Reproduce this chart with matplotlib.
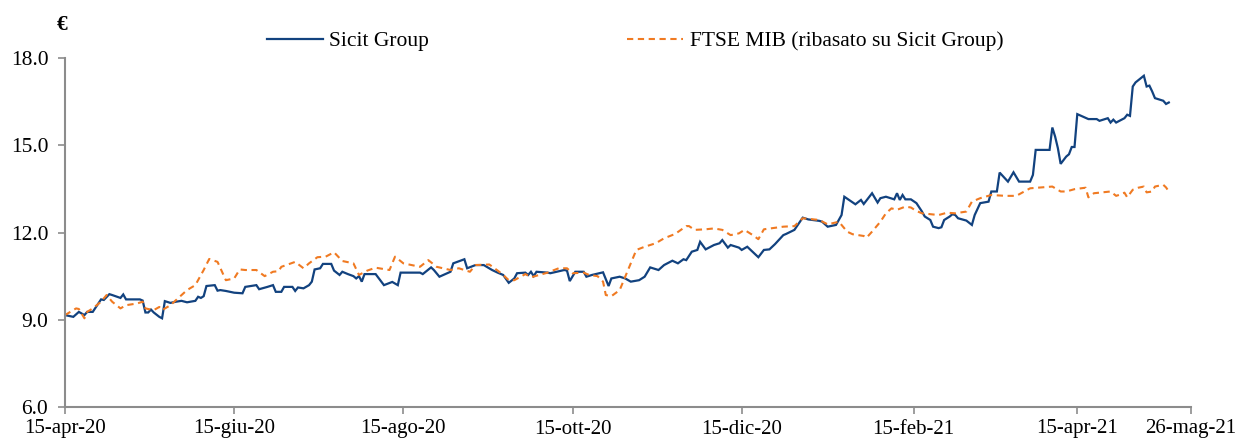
import matplotlib
matplotlib.use("Agg")
import matplotlib.pyplot as plt
import pandas as pd

plt.rcParams['font.family'] = ['Liberation Serif', 'DejaVu Serif']

# ---------------- data ----------------
sicit_dates = [
 "2020-04-15","2020-04-18","2020-04-20","2020-04-22","2020-04-23","2020-04-25","2020-04-28","2020-04-29",
 "2020-05-01","2020-05-02","2020-05-05","2020-05-06","2020-05-07","2020-05-12","2020-05-13","2020-05-14",
 "2020-05-15","2020-05-16","2020-05-17","2020-05-19","2020-05-20","2020-05-21","2020-05-23","2020-05-25",
 "2020-05-27","2020-05-29","2020-06-01","2020-06-02","2020-06-03","2020-06-04","2020-06-05","2020-06-08",
 "2020-06-09","2020-06-10","2020-06-12","2020-06-15","2020-06-18","2020-06-19","2020-06-23","2020-06-24",
 "2020-06-27","2020-06-29","2020-06-30","2020-07-02","2020-07-03","2020-07-06","2020-07-07","2020-07-08",
 "2020-07-10","2020-07-12","2020-07-13","2020-07-14","2020-07-16","2020-07-17","2020-07-20","2020-07-21",
 "2020-07-23","2020-07-24","2020-07-26","2020-07-28","2020-07-29","2020-07-30","2020-07-31","2020-08-01",
 "2020-08-05","2020-08-08","2020-08-11","2020-08-13","2020-08-14","2020-08-21","2020-08-22","2020-08-25",
 "2020-08-26","2020-08-28","2020-09-01","2020-09-02","2020-09-06","2020-09-07","2020-09-10","2020-09-13",
 "2020-09-16","2020-09-18","2020-09-20","2020-09-22","2020-09-24","2020-09-25","2020-09-28","2020-09-29",
 "2020-09-30","2020-10-01","2020-10-02","2020-10-06","2020-10-07","2020-10-12","2020-10-13","2020-10-14",
 "2020-10-16","2020-10-19","2020-10-20","2020-10-22","2020-10-26","2020-10-28","2020-10-29","2020-11-01",
 "2020-11-03","2020-11-05","2020-11-08","2020-11-10","2020-11-12","2020-11-15","2020-11-17","2020-11-20",
 "2020-11-22","2020-11-24","2020-11-25","2020-11-27","2020-11-29","2020-11-30","2020-12-02","2020-12-05",
 "2020-12-07","2020-12-08","2020-12-10","2020-12-11","2020-12-14","2020-12-15","2020-12-17","2020-12-21",
 "2020-12-23","2020-12-25","2020-12-27","2020-12-30","2020-12-31","2021-01-03","2021-01-06","2021-01-08",
 "2021-01-12","2021-01-13","2021-01-15","2021-01-18","2021-01-20","2021-01-21","2021-01-25","2021-01-27",
 "2021-01-28","2021-01-31","2021-02-02","2021-02-03","2021-02-05","2021-02-08","2021-02-09","2021-02-10",
 "2021-02-11","2021-02-12","2021-02-14","2021-02-16","2021-02-18","2021-02-19","2021-02-21","2021-02-22",
 "2021-02-24","2021-02-25","2021-02-26","2021-02-28","2021-03-01","2021-03-02","2021-03-03","2021-03-06",
 "2021-03-08","2021-03-09","2021-03-11","2021-03-14","2021-03-15","2021-03-17","2021-03-18","2021-03-21",
 "2021-03-23","2021-03-25","2021-03-29","2021-03-30","2021-03-31","2021-04-05","2021-04-06","2021-04-07",
 "2021-04-08","2021-04-09","2021-04-11","2021-04-12","2021-04-13","2021-04-14","2021-04-15","2021-04-19",
 "2021-04-22","2021-04-23","2021-04-26","2021-04-27","2021-04-28","2021-04-29","2021-05-02","2021-05-03",
 "2021-05-04","2021-05-05","2021-05-06","2021-05-09","2021-05-10","2021-05-11","2021-05-12","2021-05-13",
 "2021-05-16","2021-05-17","2021-05-18"]
sicit_values = [
 9.16, 9.10, 9.27, 9.16, 9.27, 9.27, 9.70, 9.68,
 9.88, 9.85, 9.75, 9.87, 9.70, 9.70, 9.66, 9.25,
 9.25, 9.35, 9.25, 9.10, 9.05, 9.64, 9.58, 9.62,
 9.65, 9.60, 9.65, 9.79, 9.75, 9.81, 10.16, 10.19,
 10.00, 10.02, 9.99, 9.93, 9.91, 10.13, 10.19, 10.05,
 10.13, 10.19, 9.96, 9.96, 10.13, 10.13, 9.99, 10.11,
 10.08, 10.19, 10.31, 10.73, 10.77, 10.92, 10.92, 10.69,
 10.54, 10.65, 10.57, 10.50, 10.42, 10.50, 10.31, 10.57,
 10.57, 10.19, 10.30, 10.19, 10.62, 10.62, 10.57, 10.80,
 10.71, 10.48, 10.65, 10.94, 11.08, 10.77, 10.88, 10.88,
 10.71, 10.62, 10.54, 10.27, 10.42, 10.60, 10.62, 10.54,
 10.65, 10.50, 10.65, 10.62, 10.60, 10.71, 10.69, 10.33,
 10.65, 10.65, 10.48, 10.54, 10.63, 10.16, 10.42, 10.48,
 10.42, 10.31, 10.36, 10.48, 10.80, 10.71, 10.88, 11.03,
 10.94, 11.08, 11.05, 11.34, 11.40, 11.68, 11.42, 11.57,
 11.63, 11.74, 11.48, 11.57, 11.48, 11.40, 11.51, 11.15,
 11.40, 11.42, 11.60, 11.91, 11.95, 12.09, 12.51, 12.45,
 12.40, 12.37, 12.20, 12.26, 12.60, 13.23, 12.97, 13.12,
 12.98, 13.35, 13.03, 13.18, 13.23, 13.14, 13.35, 13.12,
 13.29, 13.14, 13.14, 13.01, 12.72, 12.55, 12.43, 12.20,
 12.15, 12.18, 12.43, 12.55, 12.63, 12.60, 12.49, 12.41,
 12.26, 12.60, 13.01, 13.06, 13.41, 13.41, 14.06, 13.75,
 14.07, 13.75, 13.75, 13.98, 14.84, 14.84, 15.61, 15.30,
 14.90, 14.36, 14.61, 14.69, 14.94, 14.94, 16.07, 15.90,
 15.90, 15.84, 15.93, 15.78, 15.88, 15.78, 15.93, 16.05,
 16.01, 17.02, 17.16, 17.39, 17.02, 17.05, 16.85, 16.62,
 16.53, 16.42, 16.47]

ftse_dates = [
 "2020-04-15","2020-04-19","2020-04-20","2020-04-22","2020-04-23","2020-04-25","2020-04-28","2020-04-30",
 "2020-05-02","2020-05-05","2020-05-07","2020-05-11","2020-05-13","2020-05-14","2020-05-17","2020-05-19",
 "2020-05-20","2020-05-23","2020-05-27","2020-05-29","2020-06-01","2020-06-04","2020-06-06","2020-06-09",
 "2020-06-12","2020-06-15","2020-06-17","2020-06-19","2020-06-23","2020-06-26","2020-06-29","2020-07-01",
 "2020-07-02","2020-07-05","2020-07-07","2020-07-10","2020-07-12","2020-07-15","2020-07-18","2020-07-21",
 "2020-07-24","2020-07-28","2020-07-30","2020-08-02","2020-08-05","2020-08-10","2020-08-12","2020-08-15",
 "2020-08-21","2020-08-24","2020-08-27","2020-09-01","2020-09-04","2020-09-08","2020-09-10","2020-09-15",
 "2020-09-18","2020-09-20","2020-09-22","2020-09-24","2020-09-28","2020-09-30","2020-10-03","2020-10-06",
 "2020-10-10","2020-10-13","2020-10-15","2020-10-19","2020-10-21","2020-10-24","2020-10-26","2020-10-27",
 "2020-10-29","2020-11-01","2020-11-03","2020-11-05","2020-11-07","2020-11-10","2020-11-14","2020-11-17",
 "2020-11-21","2020-11-25","2020-11-26","2020-11-28","2020-12-02","2020-12-05","2020-12-08","2020-12-11",
 "2020-12-14","2020-12-16","2020-12-19","2020-12-21","2020-12-23","2020-12-30","2021-01-03","2021-01-06",
 "2021-01-12","2021-01-15","2021-01-19","2021-01-20","2021-01-22","2021-01-24","2021-01-26","2021-01-28",
 "2021-01-29","2021-01-31","2021-02-03","2021-02-05","2021-02-07","2021-02-09","2021-02-12","2021-02-14",
 "2021-02-16","2021-02-18","2021-02-21","2021-02-24","2021-02-27","2021-03-02","2021-03-06","2021-03-08",
 "2021-03-11","2021-03-15","2021-03-20","2021-03-24","2021-03-29","2021-04-06","2021-04-09","2021-04-11",
 "2021-04-14","2021-04-18","2021-04-19","2021-04-21","2021-04-27","2021-04-29","2021-05-01","2021-05-02",
 "2021-05-03","2021-05-05","2021-05-07","2021-05-09","2021-05-10","2021-05-12","2021-05-13","2021-05-16",
 "2021-05-17","2021-05-18"]
ftse_values = [
 9.16, 9.39, 9.37, 9.05, 9.27, 9.39, 9.62, 9.85,
 9.62, 9.39, 9.50, 9.56, 9.62, 9.39, 9.33, 9.44,
 9.33, 9.50, 9.85, 10.02, 10.19, 10.71, 11.09, 10.99,
 10.36, 10.42, 10.73, 10.71, 10.71, 10.50, 10.65, 10.67,
 10.82, 10.92, 10.99, 10.77, 10.94, 11.15, 11.17, 11.32,
 11.02, 10.94, 10.54, 10.69, 10.79, 10.71, 11.17, 10.94,
 10.82, 11.05, 10.82, 10.71, 10.77, 10.65, 10.88, 10.90,
 10.69, 10.54, 10.36, 10.36, 10.57, 10.46, 10.54, 10.62,
 10.77, 10.77, 10.60, 10.62, 10.54, 10.50, 10.31, 9.85,
 9.81, 10.02, 10.48, 10.94, 11.40, 11.51, 11.63, 11.80,
 11.95, 12.22, 12.22, 12.09, 12.11, 12.14, 12.09, 11.91,
 11.97, 12.09, 11.91, 11.77, 12.11, 12.20, 12.22, 12.49,
 12.43, 12.28, 12.37, 12.26, 12.03, 11.94, 11.91, 11.88,
 11.82, 12.03, 12.37, 12.66, 12.83, 12.78, 12.89, 12.86,
 12.74, 12.66, 12.63, 12.60, 12.68, 12.66, 12.72, 13.06,
 13.18, 13.29, 13.26, 13.26, 13.52, 13.58, 13.41, 13.41,
 13.49, 13.54, 13.21, 13.35, 13.41, 13.26, 13.32, 13.37,
 13.21, 13.47, 13.54, 13.58, 13.38, 13.41, 13.58, 13.64,
 13.55, 13.41]

series_labels = ["Sicit Group", "FTSE MIB (ribasato su Sicit Group)"]
xtick_dates = ["2020-04-15", "2020-06-15", "2020-08-15", "2020-10-15",
               "2020-12-15", "2021-02-15", "2021-04-15", "2021-05-26"]
xtick_labels = ["15-apr-20", "15-giu-20", "15-ago-20", "15-ott-20",
                "15-dic-20", "15-feb-21", "15-apr-21", "26-mag-21"]
yticks = [6.0, 9.0, 12.0, 15.0, 18.0]
unit_label = "€"

# ---------------- figure ----------------
W, H = 1235, 443
fig = plt.figure(figsize=(W / 100, H / 100), dpi=100)
ax = fig.add_axes([65 / W, 1 - 407 / H, (1191 - 65) / W, (407 - 58) / H])

blue = "#12427f"
orange = "#f07a22"
ax.plot(pd.to_datetime(sicit_dates), sicit_values, color=blue, lw=1.6,
        label=series_labels[0], solid_joinstyle="miter")
ax.plot(pd.to_datetime(ftse_dates), ftse_values, color=orange, lw=1.5,
        dashes=(3, 2.2), label=series_labels[1])

ax.set_xlim(pd.Timestamp(xtick_dates[0]), pd.Timestamp(xtick_dates[-1]))
ax.set_ylim(yticks[0], yticks[-1])
ax.set_yticks(yticks)
ax.set_yticklabels([f"{v:.1f}" for v in yticks])
ax.set_xticks(pd.to_datetime(xtick_dates))
ax.set_xticklabels(xtick_labels)

gray = "#8c8c8c"
for s in ("top", "right"):
    ax.spines[s].set_visible(False)
for s in ("left", "bottom"):
    ax.spines[s].set_color(gray)
    ax.spines[s].set_linewidth(1.5)
ax.tick_params(axis="y", direction="out", length=5, width=1.2, color=gray,
               labelsize=15.5, pad=7, labelcolor="black")
ax.tick_params(axis="x", direction="out", length=5, width=1.2, color=gray,
               labelsize=15, pad=4, labelcolor="black")

fig.text(62 / W, 1 - 25 / H, unit_label, fontsize=15.5, fontweight="bold",
         ha="center", va="center")

leg = fig.legend(loc="center", bbox_to_anchor=(635 / W, 1 - 41 / H), ncol=2,
                 frameon=False, fontsize=15.5, handlelength=2.6, handletextpad=0.3,
                 columnspacing=9.2, borderpad=0, borderaxespad=0)

fig.savefig("out.png", dpi=100)
